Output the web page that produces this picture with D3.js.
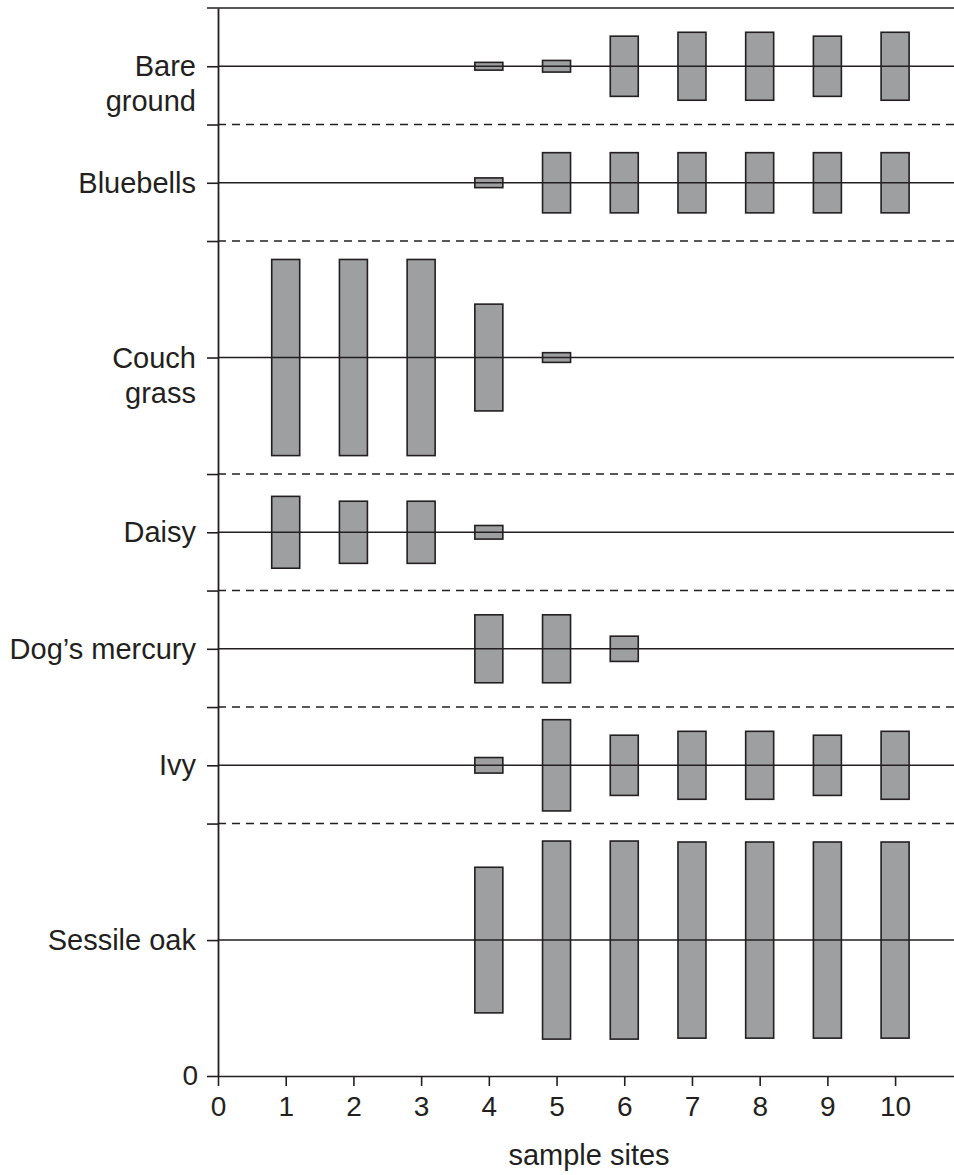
<!DOCTYPE html>
<html>
<head>
<meta charset="utf-8">
<script src="https://cdn.jsdelivr.net/npm/d3@7"></script>
<style>
  body { margin: 0; background: #fff; }
  text { font-family: "Liberation Sans", Arial, Helvetica, sans-serif; fill: #231f20; }
</style>
</head>
<body>
<div id="chart"></div>
<script>
// species rows, top to bottom
const species = ["Bare ground", "Bluebells", "Couch grass", "Daisy", "Dog’s mercury", "Ivy", "Sessile oak"];
const labelLines = [["Bare", "ground"], ["Bluebells"], ["Couch", "grass"], ["Daisy"], ["Dog’s mercury"], ["Ivy"], ["Sessile oak"]];
// height of each row band in y units
const bandSizes = [60, 60, 120, 60, 60, 60, 120];
const bottomGap = 10;

const sites = [1, 2, 3, 4, 5, 6, 7, 8, 9, 10];
const xTicks = [0, 1, 2, 3, 4, 5, 6, 7, 8, 9, 10];

// kite width (cover) at each site 1..10
const bareGround  = [0, 0, 0, 4, 6, 31, 35, 35, 31, 35];
const bluebells   = [0, 0, 0, 5, 31, 31, 31, 31, 31, 31];
const couchGrass  = [101, 101, 101, 55, 5, 0, 0, 0, 0, 0];
const daisy       = [37, 32, 32, 7, 0, 0, 0, 0, 0, 0];
const dogsMercury = [0, 0, 0, 35, 35, 13, 0, 0, 0, 0];
const ivy         = [0, 0, 0, 8, 47, 31, 35, 35, 31, 35];
const sessileOak  = [0, 0, 0, 75, 102, 102, 101, 101, 101, 101];

const coverBySpecies = [bareGround, bluebells, couchGrass, daisy, dogsMercury, ivy, sessileOak];

const width = 954;
const height = 1175;
const ink = "#231f20";

const svg = d3.select("#chart")
  .append("svg")
  .attr("width", width)
  .attr("height", height);

const yMax = d3.sum(bandSizes) + bottomGap;

const x = d3.scaleLinear()
  .domain([0, 10.87])
  .range([218, width]);

const y = d3.scaleLinear()
  .domain([0, yMax])
  .range([1076, 8]);

// work out band positions
let cursor = yMax;
const rows = species.map((name, i) => {
  const row = { name, lines: labelLines[i], top: cursor, bottom: cursor - bandSizes[i], center: cursor - bandSizes[i] / 2, values: coverBySpecies[i] };
  cursor = row.bottom;
  return row;
});

// bars
rows.forEach(row => {
  row.values.forEach((v, j) => {
    if (v <= 0) return;
    svg.append("rect")
      .attr("x", x(sites[j]) - 14)
      .attr("width", 28)
      .attr("y", y(row.center + v / 2))
      .attr("height", y(row.center - v / 2) - y(row.center + v / 2))
      .attr("fill", "#9e9fa0")
      .attr("stroke", ink)
      .attr("stroke-width", 1.6);
  });
});

// centre lines
svg.selectAll(".centre")
  .data(rows)
  .join("line")
  .attr("x1", x(0))
  .attr("x2", width)
  .attr("y1", d => y(d.center))
  .attr("y2", d => y(d.center))
  .attr("stroke", ink)
  .attr("stroke-width", 1.6);

// dashed separators between rows
const separators = rows.slice(0, -1).map(d => d.bottom);
svg.selectAll(".sep")
  .data(separators)
  .join("line")
  .attr("x1", x(0))
  .attr("x2", width)
  .attr("y1", d => y(d))
  .attr("y2", d => y(d))
  .attr("stroke", ink)
  .attr("stroke-width", 1.4)
  .attr("stroke-dasharray", "8,6");

// top border
svg.append("line")
  .attr("x1", x(0) - 11)
  .attr("x2", width)
  .attr("y1", y(yMax))
  .attr("y2", y(yMax))
  .attr("stroke", ink)
  .attr("stroke-width", 1.6);

// y axis
const yTickValues = [0].concat(separators, rows.map(d => d.center));
const yAxis = svg.append("g")
  .attr("transform", `translate(${x(0)},0)`)
  .call(d3.axisLeft(y)
    .tickValues(yTickValues)
    .tickSize(11)
    .tickSizeOuter(0)
    .tickFormat(d => d === 0 ? "0" : ""));

yAxis.select(".domain").attr("stroke", ink).attr("stroke-width", 1.8);
yAxis.selectAll(".tick line").attr("stroke", ink).attr("stroke-width", 1.6);
yAxis.selectAll("text")
  .attr("x", -20)
  .style("font-family", "Liberation Sans, Arial, sans-serif")
  .style("font-size", "28px")
  .attr("fill", ink);

// x axis
const xAxis = svg.append("g")
  .attr("transform", `translate(0,${y(0)})`)
  .call(d3.axisBottom(x)
    .tickValues(xTicks)
    .tickSize(10)
    .tickSizeOuter(0)
    .tickFormat(d3.format("d")));

xAxis.select(".domain").attr("stroke", ink).attr("stroke-width", 1.6);
xAxis.selectAll(".tick line").attr("stroke", ink).attr("stroke-width", 1.6);
xAxis.selectAll("text")
  .attr("y", 20)
  .style("font-family", "Liberation Sans, Arial, sans-serif")
  .style("font-size", "28px")
  .attr("fill", ink);

// species labels
rows.forEach(row => {
  const t = svg.append("text")
    .attr("text-anchor", "end")
    .attr("x", 196)
    .attr("y", y(row.center) + 10)
    .style("font-size", "29px");
  row.lines.forEach((line, k) => {
    t.append("tspan")
      .attr("x", 196)
      .attr("dy", k === 0 ? 0 : 35)
      .text(line);
  });
});

// x axis title
svg.append("text")
  .attr("x", 589)
  .attr("y", 1165)
  .attr("text-anchor", "middle")
  .style("font-size", "29px")
  .text("sample sites");
</script>
</body>
</html>
